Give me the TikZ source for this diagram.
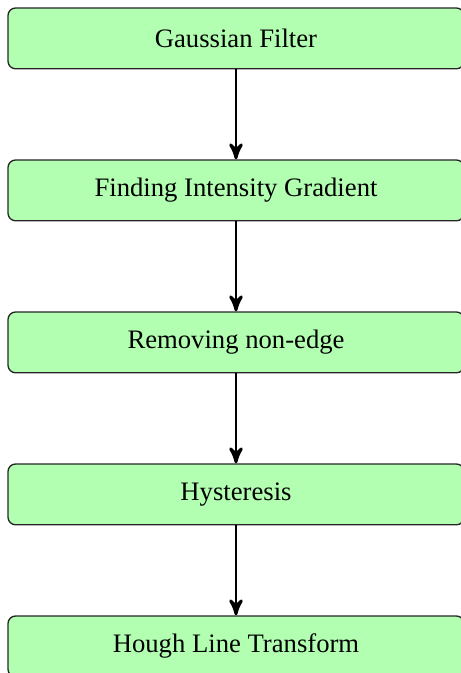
\documentclass[tikz,border=0pt]{standalone}
\usepackage{fontspec}
\setmainfont{Liberation Serif}
\usetikzlibrary{positioning}
\usetikzlibrary{arrows}

\tikzset{
  stagebox/.style={draw=black!85, line width=0.5pt, fill=green!30,
    rounded corners=1mm, minimum width=171pt, minimum height=22.8pt,
    inner sep=2pt, font=\fontsize{10}{12}\selectfont},
  flowarrow/.style={->, >=stealth', line width=1.1pt},
}

\begin{document}
\begin{tikzpicture}[node distance=33.7pt]
    \useasboundingbox (0,0) rectangle (172.5pt,-252.375pt);
    \node[stagebox] (gauss) at (88.5pt,-14.4pt) {Gaussian Filter};
    \node[stagebox, below=of gauss] (gradient) {Finding Intensity Gradient};
    \node[stagebox, below=of gradient] (nonedge) {Removing non-edge};
    \node[stagebox, below=of nonedge] (hyst) {Hysteresis};
    \node[stagebox, below=of hyst] (hough) {Hough Line Transform};
    \draw[flowarrow] (gauss) -- (gradient);
    \draw[flowarrow] (gradient) -- (nonedge);
    \draw[flowarrow] (nonedge) -- (hyst);
    \draw[flowarrow] (hyst) -- (hough);
  \end{tikzpicture}
\end{document}
